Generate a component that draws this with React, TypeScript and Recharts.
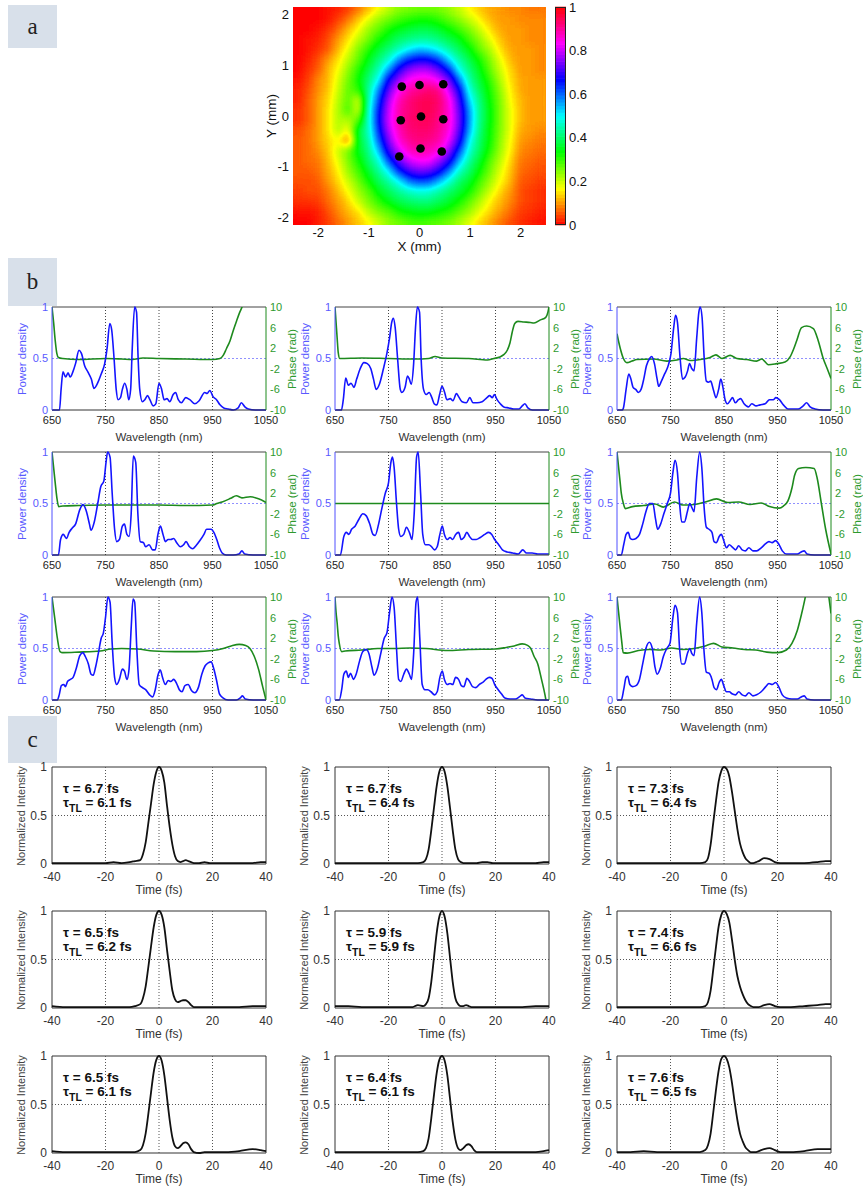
import { ScatterChart, Scatter, LineChart, Line, XAxis, YAxis, ReferenceLine, ReferenceArea } from 'recharts'

const FONT = '"Liberation Sans", Arial, sans-serif'

// ---------- panel a: beam profile (normalised intensity, 0..100) ----------
const HEAT_X = [-2.4, -2.2, -2.0, -1.8, -1.6, -1.4, -1.2, -1.0, -0.8, -0.6, -0.4, -0.2, 0, 0.2, 0.4, 0.6, 0.8, 1.0, 1.2, 1.4, 1.6, 1.8, 2.0, 2.2, 2.4]
const HEAT_Y = [2.1, 1.9, 1.7, 1.5, 1.3, 1.1, 0.9, 0.7, 0.5, 0.3, 0.1, -0.1, -0.3, -0.5, -0.7, -0.9, -1.1, -1.3, -1.5, -1.7, -1.9, -2.1]
const HEAT = [
  [0, 0, 0, 1, 2, 4, 8, 12, 17, 21, 24, 25, 26, 26, 25, 23, 20, 16, 13, 11, 10, 9, 9, 8, 8],
  [0, 0, 0, 1, 4, 8, 13, 18, 23, 26, 29, 31, 32, 32, 30, 27, 24, 20, 16, 12, 10, 10, 9, 9, 9],
  [0, 0, 1, 3, 7, 12, 17, 23, 27, 32, 35, 37, 38, 38, 36, 33, 29, 25, 20, 15, 11, 10, 10, 9, 9],
  [0, 1, 2, 5, 10, 15, 21, 26, 32, 36, 40, 42, 43, 43, 41, 38, 35, 29, 24, 18, 13, 10, 10, 9, 9],
  [0, 1, 3, 6, 12, 18, 25, 31, 37, 41, 46, 51, 54, 53, 49, 44, 39, 34, 27, 22, 15, 11, 10, 10, 9],
  [0, 2, 5, 10, 15, 21, 27, 35, 41, 47, 58, 65, 68, 67, 62, 52, 44, 38, 32, 25, 18, 12, 10, 10, 9],
  [0, 3, 6, 12, 17, 24, 31, 38, 45, 57, 69, 76, 79, 78, 73, 64, 49, 41, 35, 27, 20, 14, 10, 10, 9],
  [1, 4, 9, 12, 19, 26, 33, 41, 50, 68, 77, 84, 86, 86, 82, 74, 59, 44, 37, 30, 22, 15, 11, 10, 10],
  [2, 5, 9, 13, 20, 27, 30, 43, 58, 73, 84, 89, 91, 93, 91, 80, 67, 48, 39, 32, 24, 16, 11, 10, 10],
  [2, 6, 10, 14, 21, 28, 19, 45, 62, 78, 88, 92, 94, 95, 93, 85, 71, 52, 41, 33, 25, 17, 12, 10, 10],
  [3, 6, 10, 15, 22, 29, 19, 47, 65, 80, 89, 92, 94, 95, 92, 86, 73, 56, 42, 34, 25, 18, 12, 10, 10],
  [3, 6, 10, 15, 22, 21, 28, 47, 66, 81, 89, 93, 94, 94, 91, 86, 74, 56, 42, 34, 25, 18, 12, 10, 10],
  [5, 7, 10, 15, 22, 16, 37, 46, 64, 79, 88, 92, 93, 93, 90, 85, 72, 55, 41, 33, 25, 18, 11, 10, 9],
  [6, 7, 10, 14, 17, 8, 36, 44, 60, 75, 86, 90, 92, 91, 89, 82, 69, 50, 40, 33, 24, 17, 10, 9, 8],
  [6, 7, 9, 13, 20, 26, 35, 42, 54, 70, 80, 87, 89, 88, 85, 76, 62, 47, 39, 31, 23, 16, 9, 8, 7],
  [6, 7, 8, 12, 18, 25, 32, 40, 47, 62, 73, 80, 83, 83, 77, 69, 54, 43, 36, 28, 21, 14, 8, 7, 6],
  [6, 6, 7, 11, 16, 23, 29, 36, 43, 51, 64, 71, 74, 73, 68, 58, 46, 40, 33, 26, 19, 13, 7, 6, 5],
  [5, 5, 6, 10, 14, 20, 26, 33, 39, 44, 50, 59, 62, 61, 55, 47, 40, 36, 29, 23, 17, 12, 6, 5, 4],
  [4, 5, 5, 8, 12, 17, 23, 28, 35, 39, 43, 46, 48, 47, 44, 40, 37, 32, 26, 20, 14, 10, 5, 4, 3],
  [3, 3, 4, 7, 10, 14, 20, 25, 30, 35, 38, 40, 41, 41, 39, 36, 32, 27, 22, 16, 12, 9, 5, 4, 3],
  [1, 1, 2, 5, 9, 12, 15, 21, 25, 28, 32, 34, 35, 35, 33, 31, 27, 23, 18, 14, 10, 7, 4, 3, 2],
  [0, 0, 2, 4, 7, 10, 13, 16, 20, 24, 26, 28, 29, 28, 27, 25, 22, 18, 14, 11, 8, 5, 3, 2, 1],
]
const SPOT_X = [-0.35, 0, 0.47, -0.37, 0.03, 0.47, -0.4, 0.02, 0.44]
const SPOT_Y = [0.58, 0.61, 0.625, -0.085, -0.01, -0.065, -0.8, -0.64, -0.7]
const MM_TICKS = [-2, -1, 0, 1, 2]
const CB_TICKS = [0, 0.2, 0.4, 0.6, 0.8, 1]

// ---------- panel b: spectra [nm, power density] and phases [nm, rad] ----------
const pd1 = [[650,0],[664,0],[667,0.2],[670.5,0.37],[675.5,0.32],[680,0.36],[684,0.32],[689,0.37],[694,0.45],[700.5,0.58],[705,0.55],[711,0.43],[717,0.37],[723.5,0.3],[728.5,0.21],[736,0.27],[742,0.35],[748.5,0.45],[753,0.6],[758,0.84],[761.5,0.78],[766,0.5],[770,0.2],[773.5,0.1],[778,0.12],[781.5,0.2],[786,0.26],[790,0.2],[793.5,0.1],[797,0.2],[800,0.6],[804.5,1],[808,0.95],[811,0.5],[814,0.2],[819,0.08],[823.5,0.1],[828.5,0.14],[833,0.1],[839,0.04],[844,0.06],[850,0.26],[855,0.2],[859.5,0.1],[865,0.11],[870,0.08],[876.5,0.15],[881,0.17],[886,0.1],[892,0.07],[900,0.12],[907.5,0.1],[917,0.06],[925,0.09],[935.5,0.17],[940,0.16],[945,0.19],[951,0.13],[957.5,0.1],[964,0.05],[971,0.02],[979.5,0.01],[989,0],[998,0.02],[1004,0.07],[1010.5,0.03],[1017,0.01],[1030,0],[1050,0]]
const ph1 = [[650,10],[653,7],[656,3.5],[659,1],[662,0.2],[670,0],[700,-0.2],[750,0],[780,-0.1],[800,-0.2],[820,0.1],[850,0],[900,-0.1],[950,-0.2],[964,0],[970,0.6],[976,1.9],[983,3.5],[989,5.5],[995,7.3],[1001,9],[1006,10.2],[1010,11.5],[1050,18]]
const pd2 = [[650,0],[662,0],[665.5,0.1],[670,0.31],[675,0.24],[680,0.26],[685.5,0.22],[690.5,0.3],[697,0.4],[704,0.46],[710.5,0.45],[717,0.4],[722,0.3],[727,0.2],[733,0.25],[740.5,0.4],[747,0.55],[752,0.7],[756,0.85],[759,0.89],[762.5,0.8],[767,0.5],[772,0.2],[775,0.17],[781,0.22],[785.5,0.33],[789,0.3],[792.5,0.25],[797,0.45],[800.5,0.8],[804,1],[808,0.95],[811,0.5],[815.5,0.2],[820.5,0.15],[826,0.17],[831,0.12],[835.5,0.06],[840.5,0.05],[845.5,0.15],[850,0.23],[855,0.17],[859,0.1],[865.5,0.11],[870.5,0.09],[877,0.16],[881,0.13],[887.5,0.08],[895.5,0.07],[902,0.12],[908,0.07],[915.5,0.07],[925,0.08],[934,0.12],[939,0.14],[944,0.12],[948,0.15],[953,0.1],[959,0.06],[965.5,0.03],[975,0.02],[984,0.01],[994,0.01],[1000,0.04],[1005,0.06],[1010.5,0.02],[1019,0],[1050,0]]
const ph2 = [[650,10],[652,7],[654,4],[656,1.2],[659,0],[700,0.1],[750,0],[800,-0.1],[825,0],[837,0.4],[850,0.1],[900,0],[935,-0.3],[947,0],[958,0.3],[966,0.8],[972,1.6],[977,3],[981,5],[986,6.8],[992,7.2],[1003,7.1],[1015,7],[1022,6.9],[1034,7.5],[1044,8],[1048,9],[1050,10]]
const pd3 = [[650,0],[660,0],[662,0.02],[667,0.2],[672,0.35],[676,0.3],[680,0.22],[685,0.2],[690,0.17],[695,0.2],[700,0.3],[705,0.43],[711,0.5],[715,0.52],[720,0.45],[725,0.3],[728,0.23],[733,0.28],[739,0.35],[745,0.42],[751,0.55],[756,0.8],[759.5,0.92],[763,0.85],[768,0.5],[772.5,0.3],[777.5,0.32],[782,0.38],[785.5,0.45],[790,0.4],[794,0.38],[799,0.7],[803,0.95],[805.5,1],[809,0.9],[813,0.5],[817,0.28],[821,0.27],[825,0.28],[830,0.2],[835,0.12],[840,0.2],[844,0.3],[848,0.22],[852,0.1],[856.5,0.06],[861.5,0.09],[866,0.12],[871,0.07],[877,0.1],[881,0.11],[887.5,0.06],[895.5,0.03],[902,0.06],[910,0.04],[917.5,0.05],[927,0.06],[935,0.1],[942,0.1],[947,0.12],[953.5,0.1],[961,0.05],[970,0.01],[980,0.01],[989,0.01],[998,0.04],[1004.5,0.07],[1011,0.03],[1020,0.01],[1035,0],[1050,0]]
const ph3 = [[650,4.8],[653,3.3],[656,2],[662,0],[668.5,-0.8],[678,-0.5],[687,-0.2],[718,-0.1],[743,-0.5],[762,-0.3],[774,0],[787,-0.4],[805.5,-0.2],[824,0.2],[835,0.7],[846,0],[861.5,0.6],[874,0],[892.5,-0.2],[911,-0.5],[920.5,-0.1],[933,-1.2],[948.5,-1],[964,-0.7],[973.5,0.3],[980,1.8],[986,3.5],[995,6],[1004.5,6.3],[1017,5.8],[1026,3.5],[1035.5,0],[1043,-2],[1050,-3.9]]
const pd4 = [[650,0],[662,0],[666,0.15],[671,0.2],[677,0.16],[682,0.22],[687.5,0.26],[694,0.3],[702,0.44],[708,0.49],[714.5,0.42],[720,0.3],[723,0.24],[729,0.32],[735.5,0.5],[741,0.66],[747,0.72],[751,0.9],[754,1],[758.5,0.95],[762.5,0.6],[767,0.25],[771,0.13],[776,0.15],[781.5,0.28],[785.5,0.3],[790,0.2],[794,0.18],[798,0.4],[802,0.96],[806.5,0.9],[810.5,0.4],[815,0.13],[821,0.12],[825,0.08],[831.5,0.1],[838,0.05],[843,0.05],[848,0.2],[852.5,0.28],[857.5,0.2],[862,0.13],[867,0.15],[872,0.15],[877.5,0.16],[883,0.12],[890,0.08],[896,0.1],[900.5,0.13],[907,0.08],[913,0.06],[919,0.09],[926.5,0.14],[934,0.2],[939,0.25],[947.5,0.25],[952.5,0.22],[958,0.15],[963,0.07],[968,0.02],[975.5,0],[989,0],[999.5,0.01],[1005,0.04],[1010,0.01],[1026,0],[1050,0]]
const ph4 = [[650,10],[653,7],[656,4],[659,1.2],[662.5,-0.6],[670,-0.5],[700,-0.4],[750,-0.3],[800,-0.3],[850,-0.3],[900,-0.4],[950,-0.3],[958,0],[968,0.3],[984,1],[994.5,1.5],[1005,1.1],[1020.5,1.3],[1036,0.9],[1050,0.2]]
const pd5 = [[650,0],[660,0],[666.5,0.18],[671,0.22],[676,0.2],[681,0.25],[687.5,0.28],[695,0.35],[702,0.4],[708.5,0.38],[715,0.3],[721,0.2],[725,0.19],[731.5,0.3],[737.5,0.45],[744,0.6],[750,0.7],[754.5,0.9],[757.5,0.95],[760.5,0.85],[765,0.5],[769,0.25],[773,0.18],[778.5,0.2],[783.5,0.27],[789,0.22],[794,0.15],[798,0.4],[802.5,0.95],[805.5,1],[810,0.6],[814,0.2],[819,0.1],[825.5,0.1],[830.5,0.08],[836,0.05],[841,0.08],[846,0.2],[850.5,0.28],[854.5,0.2],[860,0.15],[865,0.17],[870,0.15],[875.5,0.2],[881,0.22],[886,0.15],[891,0.17],[896.5,0.22],[901.5,0.18],[907,0.15],[914,0.15],[921.5,0.17],[930,0.2],[937,0.22],[943,0.2],[948.5,0.15],[956,0.1],[963,0.05],[971.5,0.03],[982,0.02],[992.5,0.01],[1001,0.05],[1008,0.02],[1018.5,0.02],[1029,0.01],[1050,0.01]]
const ph5 = [[650,0],[1050,0]]
const pd6 = [[650,0],[658,0],[662.5,0.1],[667,0.2],[671,0.22],[675,0.16],[679,0.15],[685.5,0.16],[692,0.2],[698,0.3],[704,0.42],[710.5,0.5],[717,0.5],[722,0.35],[726,0.25],[731.5,0.3],[737.5,0.4],[744,0.5],[750,0.6],[754.5,0.8],[758.5,0.92],[763,0.8],[767,0.5],[771,0.32],[776,0.32],[781.5,0.42],[786,0.5],[790,0.46],[794,0.42],[799,0.75],[804.5,1],[808.5,0.85],[813,0.45],[817,0.27],[822,0.25],[827.5,0.22],[831.5,0.13],[836,0.12],[841,0.18],[845,0.2],[849.5,0.14],[854.5,0.07],[860,0.1],[865,0.08],[871.5,0.05],[877.5,0.09],[884,0.05],[890,0.04],[896.5,0.07],[904,0.04],[911,0.04],[919.5,0.07],[928,0.11],[934,0.13],[940,0.12],[946.5,0.14],[953,0.1],[959,0.04],[966.5,0.01],[977,0.01],[987,0.01],[994.5,0.03],[1000,0.04],[1005,0.01],[1018.5,0],[1050,0]]
const ph6 = [[650,10],[653,7],[656,4],[658,2],[662,0],[665.5,-1],[679,-0.6],[700,-0.4],[721,-0.1],[736.5,-0.7],[757.5,0.3],[773,-0.3],[794,-0.2],[815,0.3],[836,0.9],[857,0.2],[877.5,0.3],[898.5,-0.2],[919.5,0.1],[935,-0.6],[953,-0.9],[961,-0.5],[969.5,0.5],[977,3],[982,5.5],[989.5,6.8],[1003,7],[1018.5,6.8],[1024,5],[1032,0],[1040,-5],[1050,-9.8]]
const pd7 = [[650,0],[660,0],[663.5,0.05],[667.5,0.14],[672,0.15],[675,0.13],[679,0.18],[684.5,0.2],[689.5,0.22],[695,0.3],[702,0.43],[707.5,0.46],[712.5,0.42],[718,0.35],[723,0.25],[727,0.24],[731.5,0.32],[736.5,0.45],[742,0.6],[746,0.65],[750,0.8],[754.5,1],[758.5,0.95],[762.5,0.55],[767,0.22],[771,0.15],[776,0.2],[781.5,0.3],[785.5,0.28],[790,0.2],[794,0.3],[798,0.7],[801.5,0.98],[804.5,0.95],[808.5,0.5],[813,0.15],[819,0.12],[825,0.1],[832.5,0.05],[838,0.03],[843,0.1],[848,0.24],[852.5,0.29],[856.5,0.22],[862,0.15],[867,0.19],[872,0.18],[877.5,0.2],[883,0.16],[888,0.1],[893,0.08],[898.5,0.14],[904.5,0.15],[911,0.09],[917,0.07],[923.5,0.12],[930,0.25],[936,0.33],[942,0.36],[947.5,0.37],[952.5,0.3],[958,0.18],[963,0.06],[969.5,0.02],[979,0],[994.5,0],[1002,0.02],[1006,0.04],[1011,0.01],[1026,0],[1050,0]]
const ph7 = [[650,10],[655,6],[660,2],[665,-0.6],[670,-0.8],[700,-0.7],[740,-0.5],[760,-0.1],[780,0],[810,-0.1],[840,-0.5],[880,-0.6],[920,-0.6],[950,-0.4],[970,0],[985,0.5],[1000,0.8],[1012,0.6],[1020,0],[1028,-1.5],[1036,-4],[1044,-7.5],[1050,-10]]
const pd8 = [[650,0],[658,0],[662.5,0.1],[666.5,0.25],[671,0.28],[675,0.22],[679,0.26],[684.5,0.2],[689.5,0.25],[696,0.38],[702,0.47],[708.5,0.49],[713.5,0.45],[719,0.32],[723,0.24],[729,0.3],[735.5,0.45],[742,0.6],[747,0.65],[752,0.85],[756.5,1],[760.5,0.9],[765,0.5],[769,0.2],[773,0.18],[778.5,0.25],[783.5,0.3],[789,0.25],[793,0.2],[797,0.45],[801.5,0.95],[804.5,1],[808.5,0.6],[813,0.15],[818,0.1],[823.5,0.1],[829.5,0.08],[836,0.05],[841,0.08],[846,0.22],[850.5,0.28],[854.5,0.2],[860,0.15],[865,0.16],[870,0.15],[875.5,0.22],[881,0.2],[886,0.14],[891,0.13],[896.5,0.21],[901.5,0.18],[907,0.13],[913,0.12],[919.5,0.15],[926,0.17],[932,0.2],[938.5,0.22],[943.5,0.21],[948.5,0.15],[955,0.1],[961,0.06],[967.5,0.02],[977,0.01],[987,0.01],[994.5,0.03],[1000,0.05],[1005,0.02],[1015.5,0.01],[1029,0],[1050,0]]
const ph8 = [[650,10],[652,7],[654,5],[656,2.5],[658,1],[662.5,-0.6],[669,-0.5],[700,-0.3],[730,0],[760,0],[790,0.1],[820,0],[860,-0.4],[900,-0.2],[950,-0.1],[970,0.2],[985,0.5],[1000,0.9],[1010,0.6],[1016,0],[1022,-1.5],[1029,-3],[1036,-6],[1042.5,-9],[1046,-11],[1050,-13]]
const pd9 = [[650,0],[658,0],[662.5,0.1],[667,0.22],[670,0.23],[674,0.15],[679,0.13],[685.5,0.14],[692,0.2],[698,0.35],[704,0.5],[710.5,0.56],[716,0.5],[721,0.32],[725,0.25],[730.5,0.3],[736.5,0.42],[743,0.5],[749,0.55],[754.5,0.8],[758.5,0.92],[763,0.85],[767,0.5],[771,0.35],[776,0.35],[781.5,0.45],[786,0.5],[790,0.45],[794,0.43],[799,0.75],[804.5,1],[808.5,0.85],[813,0.45],[817,0.27],[822,0.26],[827.5,0.2],[831.5,0.12],[836,0.1],[841,0.17],[845,0.2],[849.5,0.14],[854.5,0.08],[860,0.08],[865,0.06],[871.5,0.05],[877.5,0.08],[884,0.05],[890,0.04],[896.5,0.07],[904,0.04],[911,0.05],[919.5,0.08],[928,0.13],[934,0.16],[940,0.15],[946.5,0.17],[953,0.12],[959,0.05],[966.5,0.02],[977,0.01],[987,0.01],[994.5,0.03],[1000,0.04],[1005,0.01],[1018.5,0],[1050,0]]
const ph9 = [[650,10],[653,7],[656,4],[659,1.2],[661.5,-0.8],[669,-0.9],[690,-0.4],[710.5,-0.2],[731.5,-0.3],[752,0.1],[773,-0.2],[794,0],[815,0.5],[830.5,1],[846,0.3],[867,0.1],[888,-0.2],[909,-0.3],[930,-0.7],[951,-0.8],[966.5,-0.3],[977,1],[987,3.5],[994.5,6.5],[1001,9.5],[1004,11],[1010,14],[1040,14],[1046,10],[1050,6.8]]
const SPECTRA = [pd1, pd2, pd3, pd4, pd5, pd6, pd7, pd8, pd9]
const PHASES = [ph1, ph2, ph3, ph4, ph5, ph6, ph7, ph8, ph9]
const WL_TICKS = [650, 750, 850, 950, 1050]
const PD_TICKS = [0, 0.5, 1]
const PH_TICKS = [-10, -6, -2, 2, 6, 10]

// ---------- panel c: temporal intensity ----------
const PULSE_T = [-40, -35, -30, -25, -20, -17, -14, -11, -9, -7, -6, -5, -4, -3, -2, -1, 0, 1, 2, 3, 4, 5, 6, 7, 8, 9, 10, 11, 12, 13, 15, 17, 19, 21, 25, 30, 35, 38, 40]
const p1 = [0.01, 0.01, 0.01, 0.01, 0.01, 0.02, 0.01, 0.02, 0.03, 0.04, 0.1, 0.22, 0.42, 0.62, 0.82, 0.95, 1, 0.96, 0.84, 0.6, 0.38, 0.2, 0.08, 0.03, 0.02, 0.03, 0.04, 0.03, 0.02, 0.01, 0.01, 0.02, 0.01, 0.01, 0.01, 0.01, 0.01, 0.02, 0.02]
const p2 = [0.01, 0.01, 0.01, 0.01, 0.01, 0.01, 0.01, 0.01, 0.01, 0.02, 0.05, 0.15, 0.35, 0.58, 0.8, 0.95, 1, 0.95, 0.8, 0.58, 0.35, 0.15, 0.05, 0.02, 0.01, 0.01, 0.01, 0.01, 0.01, 0.01, 0.02, 0.02, 0.01, 0.01, 0.01, 0.01, 0.01, 0.02, 0.02]
const p3 = [0.01, 0.01, 0.01, 0.01, 0.01, 0.01, 0.01, 0.01, 0.01, 0.02, 0.06, 0.2, 0.43, 0.65, 0.85, 0.96, 1, 0.98, 0.9, 0.74, 0.55, 0.36, 0.21, 0.12, 0.06, 0.03, 0.01, 0.01, 0.02, 0.03, 0.06, 0.05, 0.02, 0.01, 0.01, 0.01, 0.02, 0.03, 0.03]
const p4 = [0.02, 0.01, 0.01, 0.01, 0.01, 0.01, 0.01, 0.01, 0.02, 0.04, 0.1, 0.22, 0.42, 0.63, 0.83, 0.96, 1, 0.96, 0.83, 0.6, 0.38, 0.18, 0.09, 0.06, 0.07, 0.08, 0.08, 0.06, 0.03, 0.01, 0.01, 0.01, 0.01, 0.01, 0.01, 0.01, 0.02, 0.02, 0.02]
const p5 = [0.02, 0.02, 0.01, 0.01, 0.01, 0.01, 0.01, 0.01, 0.03, 0.02, 0.04, 0.1, 0.27, 0.52, 0.77, 0.94, 1, 0.94, 0.77, 0.52, 0.27, 0.1, 0.04, 0.02, 0.02, 0.03, 0.02, 0.01, 0.01, 0.01, 0.01, 0.01, 0.01, 0.01, 0.01, 0.01, 0.02, 0.02, 0.02]
const p6 = [0.01, 0.01, 0.01, 0.01, 0.01, 0.01, 0.01, 0.01, 0.01, 0.02, 0.06, 0.18, 0.4, 0.63, 0.84, 0.96, 1, 0.97, 0.88, 0.7, 0.5, 0.33, 0.22, 0.14, 0.08, 0.04, 0.02, 0.01, 0.01, 0.01, 0.03, 0.04, 0.02, 0.01, 0.01, 0.02, 0.03, 0.04, 0.04]
const p7 = [0.02, 0.01, 0.01, 0.01, 0.01, 0.01, 0.01, 0.01, 0.01, 0.03, 0.08, 0.2, 0.4, 0.62, 0.83, 0.96, 1, 0.95, 0.8, 0.57, 0.34, 0.16, 0.07, 0.05, 0.07, 0.1, 0.11, 0.09, 0.04, 0.01, 0, 0.01, 0.01, 0.01, 0.01, 0.02, 0.04, 0.03, 0.02]
const p8 = [0.01, 0.01, 0.01, 0.01, 0.01, 0.01, 0.01, 0.01, 0.01, 0.02, 0.05, 0.15, 0.36, 0.6, 0.82, 0.96, 1, 0.95, 0.8, 0.56, 0.32, 0.14, 0.05, 0.03, 0.05, 0.08, 0.09, 0.07, 0.03, 0.01, 0.01, 0.01, 0.01, 0.01, 0.01, 0.01, 0.01, 0.02, 0.03]
const p9 = [0.01, 0.01, 0.02, 0.01, 0.01, 0.01, 0.01, 0.01, 0.01, 0.03, 0.08, 0.2, 0.42, 0.65, 0.85, 0.97, 1, 0.97, 0.88, 0.72, 0.52, 0.34, 0.2, 0.12, 0.06, 0.03, 0.01, 0.01, 0.01, 0.02, 0.04, 0.05, 0.03, 0.01, 0.01, 0.02, 0.04, 0.04, 0.04]
const PULSES = [p1, p2, p3, p4, p5, p6, p7, p8, p9]
const TAU = ['6.7', '6.7', '7.3', '6.5', '5.9', '7.4', '6.5', '6.4', '7.6']
const TAU_TL = ['6.1', '6.4', '6.4', '6.2', '5.9', '6.6', '6.1', '6.1', '6.5']
const T_TICKS = [-40, -20, 0, 20, 40]

// ---------- layout ----------
const A_LEFT = 293, A_TOP = 7, A_W = 253, A_H = 218
const CB_LEFT = 555, CB_W = 11
const CELL_W = (A_W * 0.2) / 5
const CELL_H = (A_H * 0.2) / 4.3
const B_COLS = [52, 335, 617], B_ROWS = [307, 452, 597], B_W = 214, B_H = 103
const C_COLS = [52, 335, 617], C_ROWS = [767, 911, 1056], C_W = 214, C_H = 97
const PAD = 10

const BLUE = '#1414ff'
const BLUE_TXT = '#5a5aff'
const GREEN = '#1d8a1d'
const GREEN_TXT = '#2e9a2e'

const CSS = `.heat-chart .recharts-scatter { filter: url(#heatFilter); }`

const heatCells = HEAT.flatMap((row, i) => row.map((v, j) => ({ x: HEAT_X[j], y: HEAT_Y[i], v })))
const spots = SPOT_X.map((x, i) => ({ x, y: SPOT_Y[i] }))
const cbSteps = Array.from({ length: 64 }, (_, i) => ({ x: 0.5, v: (i + 0.5) / 64 }))

const hsv = (v: number) => `hsl(${Math.min(1, Math.max(0, v)) * 360},100%,50%)`

function HeatCell(props: any) {
  const { cx, cy, payload } = props
  const g = Math.round((payload.v / 100) * 255)
  return <rect x={cx - CELL_W / 2 - 0.5} y={cy - CELL_H / 2 - 0.5} width={CELL_W + 1} height={CELL_H + 1} fill={`rgb(${g},${g},${g})`} />
}

function CbCell(props: any) {
  const { cx, cy, payload } = props
  const h = A_H / 64
  return <rect x={cx - CB_W / 2} y={cy - h / 2 - 0.3} width={CB_W} height={h + 0.6} fill={hsv(payload.v)} />
}

function Spot(props: any) {
  return <circle cx={props.cx} cy={props.cy} r={4.3} fill="#000" />
}

function Txt({ x, y, children, color = '#111', size = 12, rotate = false, style = {} }: any) {
  return (
    <div
      style={{
        position: 'absolute', left: x, top: y, whiteSpace: 'nowrap', color, fontSize: size, lineHeight: 1,
        transform: `translate(-50%,-50%)${rotate ? ' rotate(-90deg)' : ''}`, ...style,
      }}
    >
      {children}
    </div>
  )
}

function Tag({ letter, top, height }: { letter: string; top: number; height: number }) {
  return (
    <div
      style={{
        position: 'absolute', left: 8, top, width: 49, height, background: '#d8e0ea',
        display: 'flex', alignItems: 'center', justifyContent: 'center',
        font: '23px "Liberation Serif", "DejaVu Serif", serif', color: '#222',
      }}
    >
      {letter}
    </div>
  )
}

function BeamPanel() {
  return (
    <>
      <div className="heat-chart" style={{ position: 'absolute', left: A_LEFT, top: A_TOP }}>
        <ScatterChart width={A_W} height={A_H} margin={{ top: 0, right: 0, bottom: 0, left: 0 }}>
          <XAxis type="number" dataKey="x" domain={[-2.5, 2.5]} hide />
          <YAxis type="number" dataKey="y" domain={[-2.15, 2.15]} hide />
          <Scatter data={heatCells} shape={HeatCell} isAnimationActive={false} />
        </ScatterChart>
      </div>
      <div style={{ position: 'absolute', left: A_LEFT - 22, top: A_TOP - PAD }}>
        <ScatterChart width={A_W + 22} height={A_H + 22 + PAD} margin={{ top: PAD, right: 0, bottom: 0, left: 0 }}>
          <XAxis type="number" dataKey="x" domain={[-2.5, 2.5]} ticks={MM_TICKS} interval={0} height={22}
            axisLine={false} tickLine={false} tickSize={2} tickMargin={1} tick={{ fontSize: 13, fill: '#111' }} />
          <YAxis type="number" dataKey="y" domain={[-2.15, 2.15]} ticks={MM_TICKS} interval={0} width={22}
            axisLine={false} tickLine={false} tickSize={2} tickMargin={2} tick={{ fontSize: 13, fill: '#111' }} />
          <Scatter data={spots} shape={Spot} isAnimationActive={false} />
        </ScatterChart>
      </div>
      <div style={{ position: 'absolute', left: CB_LEFT, top: A_TOP - PAD }}>
        <ScatterChart width={CB_W + 30} height={A_H + 2 * PAD} margin={{ top: PAD, right: 0, bottom: PAD, left: 0 }}>
          <XAxis type="number" dataKey="x" domain={[0, 1]} hide />
          <YAxis type="number" dataKey="v" orientation="right" domain={[0, 1]} ticks={CB_TICKS} interval={0} width={30}
            axisLine={false} tickLine={false} tickSize={1} tickMargin={2} tick={{ fontSize: 13, fill: '#111' }} />
          <Scatter data={cbSteps} shape={CbCell} isAnimationActive={false} />
        </ScatterChart>
      </div>
      <div style={{ position: 'absolute', left: CB_LEFT, top: A_TOP, width: CB_W, height: A_H, border: '1px solid #222', boxSizing: 'border-box' }} />
      <Txt x={272} y={A_TOP + A_H / 2} size={13.5} rotate>Y (mm)</Txt>
      <Txt x={A_LEFT + A_W / 2} y={247} size={13.5}>X (mm)</Txt>
    </>
  )
}

function SpectrumPlot({ idx }: { idx: number }) {
  const left = B_COLS[idx % 3]
  const top = B_ROWS[Math.floor(idx / 3)]
  const pdData = SPECTRA[idx].map(([x, y]) => ({ x, y }))
  const phData = PHASES[idx].map(([x, y]) => ({ x, y }))
  return (
    <>
      <div style={{ position: 'absolute', left: left - 60, top: top - PAD }}>
        <LineChart width={B_W + 120} height={B_H + 35 + PAD} margin={{ top: PAD, right: 30, bottom: 0, left: 30 }}>
          <XAxis type="number" dataKey="x" domain={[650, 1050]} ticks={WL_TICKS} interval={0} allowDataOverflow height={35}
            tickLine={false} tickSize={2} tickMargin={4} axisLine={{ stroke: '#333' }} tick={{ fontSize: 11, fill: '#222' }} />
          <YAxis yAxisId="pd" type="number" domain={[0, 1]} ticks={PD_TICKS} interval={0} width={30}
            tickLine={false} tickSize={2} tickMargin={2} axisLine={{ stroke: '#5050ff' }} tick={{ fontSize: 11, fill: BLUE_TXT }} />
          <YAxis yAxisId="ph" orientation="right" type="number" domain={[-10, 10]} ticks={PH_TICKS} interval={0} allowDataOverflow width={30}
            tickLine={false} tickSize={2} tickMargin={2} axisLine={{ stroke: GREEN }} tick={{ fontSize: 11, fill: GREEN_TXT }} />
          {[750, 850, 950].map((x) => (
            <ReferenceLine key={x} x={x} yAxisId="pd" stroke="#444" strokeDasharray="1 2" />
          ))}
          <ReferenceLine y={0.5} yAxisId="pd" stroke="#9090ff" strokeDasharray="2 2" />
          <ReferenceLine y={1} yAxisId="pd" stroke="#444" />
          <Line yAxisId="ph" data={phData} dataKey="y" type="monotone" stroke={GREEN} strokeWidth={1.6} dot={false} isAnimationActive={false} />
          <Line yAxisId="pd" data={pdData} dataKey="y" type="monotone" stroke={BLUE} strokeWidth={1.6} dot={false} isAnimationActive={false} />
        </LineChart>
      </div>
      <Txt x={left - 29} y={top + B_H / 2} color={BLUE_TXT} size={11.5} rotate>Power density</Txt>
      <Txt x={left + B_W + 27} y={top + B_H / 2} color={GREEN_TXT} size={11.5} rotate>Phase (rad)</Txt>
      <Txt x={left + B_W / 2} y={top + 131} color="#333" size={11.5}>Wavelength (nm)</Txt>
    </>
  )
}

function PulsePlot({ idx }: { idx: number }) {
  const left = C_COLS[idx % 3]
  const top = C_ROWS[Math.floor(idx / 3)]
  const data = PULSE_T.map((t, i) => ({ t, v: PULSES[idx][i] }))
  return (
    <>
      <div style={{ position: 'absolute', left: left - 30, top: top - PAD }}>
        <LineChart width={C_W + 40} height={C_H + 20 + PAD} data={data} margin={{ top: PAD, right: 10, bottom: 0, left: 0 }}>
          <XAxis type="number" dataKey="t" domain={[-40, 40]} ticks={T_TICKS} interval={0} height={20}
            axisLine={false} tickLine={false} tickSize={2} tickMargin={6} tick={{ fontSize: 12, fill: '#333' }} />
          <YAxis type="number" domain={[0, 1]} ticks={PD_TICKS} interval={0} width={30}
            axisLine={false} tickLine={false} tickSize={2} tickMargin={3} tick={{ fontSize: 12, fill: '#333' }} />
          {[-20, 0, 20].map((x) => (
            <ReferenceLine key={x} x={x} stroke="#555" strokeDasharray="1 2" />
          ))}
          <ReferenceLine y={0.5} stroke="#555" strokeDasharray="1 2" />
          <ReferenceArea x1={-40} x2={40} y1={0} y2={1} fill="none" fillOpacity={0} stroke="#333" strokeWidth={1} />
          <Line dataKey="v" type="monotone" stroke="#111" strokeWidth={1.8} dot={false} isAnimationActive={false} />
        </LineChart>
      </div>
      <div style={{ position: 'absolute', left: left + 11, top: top + 15, font: `bold 13.5px ${FONT}`, lineHeight: '14px', color: '#111', whiteSpace: 'nowrap' }}>
        <div>τ = {TAU[idx]} fs</div>
        <div>
          τ<span style={{ fontSize: 10.5, position: 'relative', top: 5, lineHeight: 0 }}>TL</span> = {TAU_TL[idx]} fs
        </div>
      </div>
      <Txt x={left - 31} y={top + C_H / 2} color="#444" size={11} rotate>Normalized Intensity</Txt>
      <Txt x={left + C_W / 2} y={top + 123} color="#333" size={12}>Time (fs)</Txt>
    </>
  )
}

export default function App() {
  return (
    <div style={{ position: 'absolute', left: 0, top: 0, width: 863, height: 1188, background: '#fff', fontFamily: FONT, overflow: 'hidden' }}>
      <style>{CSS}</style>
      <svg width={0} height={0} style={{ position: 'absolute' }}>
        <defs>
          <filter id="heatFilter" filterUnits="userSpaceOnUse" x={0} y={0} width={A_W} height={A_H} colorInterpolationFilters="sRGB">
            <feGaussianBlur stdDeviation={4.5} />
            <feComponentTransfer>
              <feFuncA type="table" tableValues="1 1" />
              <feFuncR type="table" tableValues="1 1 0 0 0 1 1" />
              <feFuncG type="table" tableValues="0 1 1 1 0 0 0" />
              <feFuncB type="table" tableValues="0 0 0 1 1 1 0" />
            </feComponentTransfer>
          </filter>
        </defs>
      </svg>
      <Tag letter="a" top={5} height={43} />
      <Tag letter="b" top={258} height={48} />
      <Tag letter="c" top={716} height={47} />
      <BeamPanel />
      {SPECTRA.map((_, i) => <SpectrumPlot key={i} idx={i} />)}
      {PULSES.map((_, i) => <PulsePlot key={i} idx={i} />)}
    </div>
  )
}
